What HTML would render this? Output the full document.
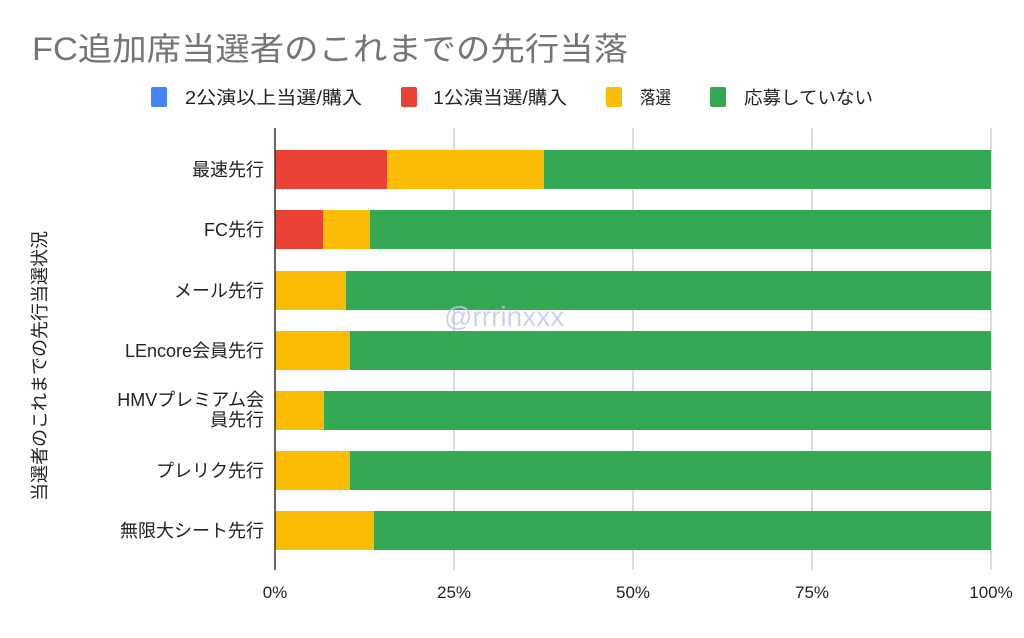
<!DOCTYPE html>
<html><head><meta charset="utf-8"><style>
body{margin:0;background:#fff;}
svg text{font-family:"Liberation Sans","Noto Sans CJK JP",sans-serif;}
</style></head><body>
<svg width="1024" height="633" xmlns="http://www.w3.org/2000/svg">
<rect width="1024" height="633" fill="#fff"/>
<text x="32" y="60" font-size="32" fill="#757575" textLength="596" lengthAdjust="spacingAndGlyphs">FC追加席当選者のこれまでの先行当落</text>
<g font-size="18" fill="#222">
<rect x="151" y="87" width="16" height="20" rx="2" fill="#4285f4"/><text x="185" y="104" textLength="177" lengthAdjust="spacingAndGlyphs">2公演以上当選/購入</text>
<rect x="401" y="87" width="16" height="20" rx="2" fill="#ea4335"/><text x="433" y="104" textLength="134" lengthAdjust="spacingAndGlyphs">1公演当選/購入</text>
<rect x="606" y="87" width="16" height="20" rx="2" fill="#fbbc04"/><text x="640" y="104" textLength="31" lengthAdjust="spacingAndGlyphs">落選</text>
<rect x="710" y="87" width="16" height="20" rx="2" fill="#34a853"/><text x="744" y="104" textLength="129" lengthAdjust="spacingAndGlyphs">応募していない</text>
</g>
<g stroke="#d0d0d0" stroke-width="1.5">
<line x1="454" y1="128" x2="454" y2="570"/><line x1="633" y1="128" x2="633" y2="570"/><line x1="812" y1="128" x2="812" y2="570"/><line x1="991" y1="128" x2="991" y2="570"/>
</g>
<g>
<rect x="275" y="150" width="112" height="39" fill="#ea4335"/><rect x="387" y="150" width="157" height="39" fill="#fbbc04"/><rect x="544" y="150" width="447" height="39" fill="#34a853"/>
<rect x="275" y="210" width="48" height="39" fill="#ea4335"/><rect x="323" y="210" width="47" height="39" fill="#fbbc04"/><rect x="370" y="210" width="621" height="39" fill="#34a853"/>
<rect x="275" y="271" width="71" height="39" fill="#fbbc04"/><rect x="346" y="271" width="645" height="39" fill="#34a853"/>
<rect x="275" y="331" width="75" height="39" fill="#fbbc04"/><rect x="350" y="331" width="641" height="39" fill="#34a853"/>
<rect x="275" y="391" width="49" height="39" fill="#fbbc04"/><rect x="324" y="391" width="667" height="39" fill="#34a853"/>
<rect x="275" y="451" width="75" height="39" fill="#fbbc04"/><rect x="350" y="451" width="641" height="39" fill="#34a853"/>
<rect x="275" y="511" width="99" height="39" fill="#fbbc04"/><rect x="374" y="511" width="617" height="39" fill="#34a853"/>
</g>
<line x1="275" y1="128" x2="275" y2="570" stroke="#333" stroke-width="1.5"/>
<text x="444" y="326" font-size="28" fill="#c5c8ee" opacity="0.85">@rrrinxxx</text>
<g font-size="18" fill="#222" text-anchor="end">
<text x="264" y="176">最速先行</text>
<text x="264" y="236">FC先行</text>
<text x="264" y="297">メール先行</text>
<text x="264" y="357">LEncore会員先行</text>
<text x="264" y="406">HMVプレミアム会</text>
<text x="264" y="426">員先行</text>
<text x="264" y="477">プレリク先行</text>
<text x="264" y="537">無限大シート先行</text>
</g>
<g font-size="17" fill="#222" text-anchor="middle">
<text x="275" y="598">0%</text><text x="454" y="598">25%</text><text x="633" y="598">50%</text><text x="812" y="598">75%</text><text x="991" y="598">100%</text>
</g>
<text transform="translate(46,366) rotate(-90)" font-size="18" fill="#222" text-anchor="middle">当選者のこれまでの先行当選状況</text>
</svg>
</body></html>
